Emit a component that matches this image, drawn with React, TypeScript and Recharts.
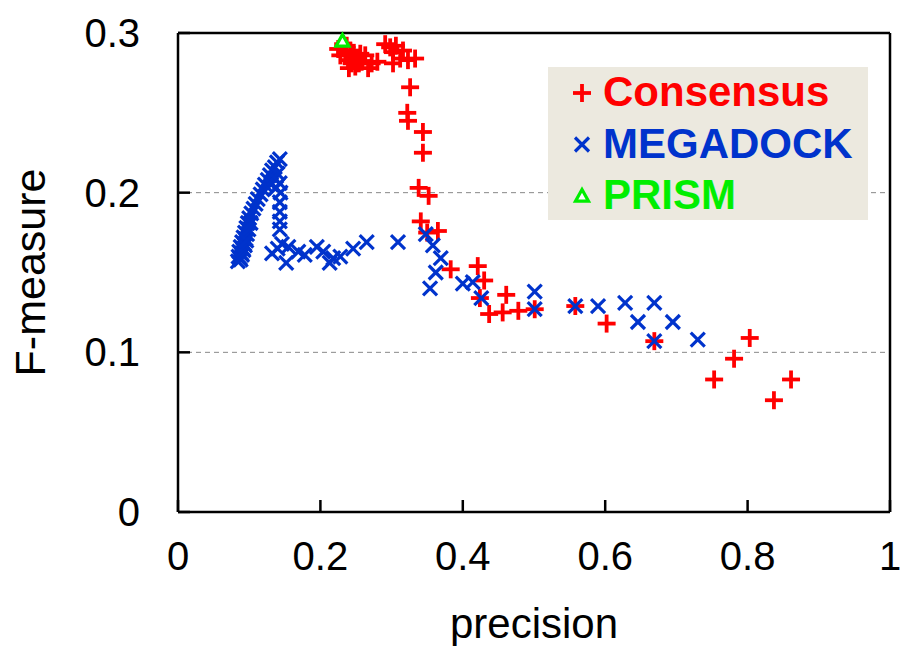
import { ScatterChart, Scatter, XAxis, YAxis, CartesianGrid, ReferenceLine, Legend } from "recharts"

const font = "'Liberation Sans', Arial, sans-serif"
const RED = "#ff0000"
const BLUE = "#0033cc"
const GREEN = "#00ee00"

const xTicks = [0, 0.2, 0.4, 0.6, 0.8, 1]
const yTicks = [0, 0.1, 0.2, 0.3]

// [precision, F-measure]
const consensusRaw = [
  [0.225, 0.29], [0.228, 0.286], [0.232, 0.293], [0.235, 0.288], [0.237, 0.292],
  [0.239, 0.283], [0.242, 0.289], [0.24, 0.278], [0.244, 0.281], [0.247, 0.286],
  [0.249, 0.279], [0.251, 0.284], [0.254, 0.281], [0.256, 0.287], [0.258, 0.282],
  [0.263, 0.286], [0.267, 0.278], [0.272, 0.281], [0.28, 0.282], [0.291, 0.293],
  [0.298, 0.291], [0.302, 0.288], [0.306, 0.292], [0.302, 0.281], [0.312, 0.284],
  [0.316, 0.289], [0.323, 0.283], [0.333, 0.284],
  [0.326, 0.266], [0.322, 0.25], [0.323, 0.245], [0.344, 0.238], [0.344, 0.225],
  [0.338, 0.203], [0.352, 0.198], [0.341, 0.182], [0.35, 0.175], [0.365, 0.176],
  [0.383, 0.152], [0.421, 0.154], [0.43, 0.145], [0.424, 0.134], [0.461, 0.136],
  [0.437, 0.124], [0.456, 0.125], [0.478, 0.126], [0.501, 0.127], [0.558, 0.129],
  [0.602, 0.118], [0.669, 0.107], [0.753, 0.083], [0.781, 0.096], [0.803, 0.109],
  [0.837, 0.07], [0.861, 0.083],
]

const megadockRaw = [
  [0.084, 0.157], [0.085, 0.16], [0.086, 0.163], [0.087, 0.159], [0.088, 0.166],
  [0.089, 0.162], [0.09, 0.169], [0.091, 0.165], [0.092, 0.172], [0.093, 0.168],
  [0.094, 0.175], [0.095, 0.171], [0.096, 0.178], [0.097, 0.174], [0.098, 0.181],
  [0.099, 0.177], [0.1, 0.184], [0.102, 0.181], [0.103, 0.187], [0.106, 0.19],
  [0.109, 0.193], [0.112, 0.196], [0.116, 0.199], [0.119, 0.202], [0.122, 0.205],
  [0.126, 0.208], [0.129, 0.211], [0.132, 0.214], [0.136, 0.216], [0.139, 0.219],
  [0.143, 0.221], [0.131, 0.205], [0.135, 0.209], [0.138, 0.203], [0.14, 0.212],
  [0.088, 0.158], [0.09, 0.161], [0.092, 0.164], [0.094, 0.167], [0.096, 0.17],
  [0.143, 0.206], [0.144, 0.2], [0.143, 0.194], [0.143, 0.188], [0.143, 0.182], [0.143, 0.177],
  [0.132, 0.162], [0.14, 0.165], [0.146, 0.168], [0.152, 0.156], [0.155, 0.166],
  [0.169, 0.163], [0.178, 0.161], [0.195, 0.166], [0.204, 0.163], [0.213, 0.156],
  [0.218, 0.159], [0.228, 0.16], [0.246, 0.165], [0.265, 0.169], [0.309, 0.169],
  [0.348, 0.174], [0.358, 0.167], [0.369, 0.159], [0.362, 0.15], [0.354, 0.14],
  [0.4, 0.143], [0.414, 0.144], [0.426, 0.134], [0.501, 0.138], [0.501, 0.127],
  [0.558, 0.129], [0.59, 0.129], [0.628, 0.131], [0.669, 0.131], [0.646, 0.119],
  [0.695, 0.119], [0.669, 0.107], [0.73, 0.108],
]

const prismRaw = [[0.231, 0.295]]

const toPoints = (rows: number[][]) => rows.map(([x, y]) => ({ x, y }))
const consensus = toPoints(consensusRaw)
const megadock = toPoints(megadockRaw)
const prism = toPoints(prismRaw)

const Plus = ({ cx, cy, s = 9, color = RED }: any) => (
  <g stroke={color} strokeWidth={3.8}>
    <line x1={cx - s} y1={cy} x2={cx + s} y2={cy} />
    <line x1={cx} y1={cy - s} x2={cx} y2={cy + s} />
  </g>
)

const Cross = ({ cx, cy, s = 7, color = BLUE }: any) => (
  <g stroke={color} strokeWidth={3.2}>
    <line x1={cx - s} y1={cy - s} x2={cx + s} y2={cy + s} />
    <line x1={cx - s} y1={cy + s} x2={cx + s} y2={cy - s} />
  </g>
)

const Triangle = ({ cx, cy, s = 6.5, color = GREEN }: any) => (
  <polygon
    points={`${cx},${cy - s} ${cx - s},${cy + s * 0.8} ${cx + s},${cy + s * 0.8}`}
    fill="#ffffff"
    stroke={color}
    strokeWidth={3.2}
  />
)

const legendItems = [
  { name: "Consensus", color: RED, Marker: Plus },
  { name: "MEGADOCK", color: BLUE, Marker: Cross },
  { name: "PRISM", color: GREEN, Marker: Triangle },
]

const LegendBox = () => (
  <svg width={320} height={153} style={{ display: "block", background: "#ece9df" }}>
    {legendItems.map((it, i) => (
      <g key={it.name}>
        <it.Marker cx={34} cy={26 + i * 51.5} color={it.color} />
        <text
          x={55}
          y={39 + i * 51.5}
          fill={it.color}
          fontSize={42}
          fontWeight="bold"
          fontFamily={font}
        >
          {it.name}
        </text>
      </g>
    ))}
  </svg>
)

const XTick = ({ x, y, payload }: any) => (
  <g>
    <line x1={x} y1={y} x2={x} y2={y - 12} stroke="#000" strokeWidth={2.5} />
    <text x={x} y={y + 58} textAnchor="middle" fontSize={40} fill="#000" fontFamily={font}>
      {String(payload.value)}
    </text>
  </g>
)

const YTick = ({ x, y, payload }: any) => (
  <g>
    <line x1={x} y1={y} x2={x + 12} y2={y} stroke="#000" strokeWidth={2.5} />
    <text x={x - 38} y={y} dy="0.35em" textAnchor="end" fontSize={40} fill="#000" fontFamily={font}>
      {String(payload.value)}
    </text>
  </g>
)

export default function App() {
  return (
    <div style={{ position: "absolute", left: 0, top: 0, background: "#fff" }}>
      <ScatterChart width={901} height={646} margin={{ top: 33, right: 11, bottom: 0, left: 0 }}>
        <CartesianGrid vertical={false} stroke="#888" strokeDasharray="5 4" strokeWidth={1} />
        <XAxis
          type="number"
          dataKey="x"
          domain={[0, 1]}
          ticks={xTicks}
          height={134}
          tickSize={0}
          tickMargin={0}
          tickLine={false}
          tick={<XTick />}
          axisLine={{ stroke: "#000", strokeWidth: 2.5 }}
          label={{ value: "precision", position: "insideBottom", offset: 8, fontSize: 42, fill: "#000", fontFamily: font }}
        />
        <YAxis
          type="number"
          dataKey="y"
          domain={[0, 0.3]}
          ticks={yTicks}
          width={178}
          tickSize={0}
          tickMargin={0}
          tickLine={false}
          tick={<YTick />}
          axisLine={{ stroke: "#000", strokeWidth: 2.5 }}
          label={{ value: "F-measure", angle: -90, position: "insideLeft", offset: 30, fontSize: 43, fill: "#000", fontFamily: font, style: { textAnchor: "middle" } }}
        />
        <ReferenceLine y={0.3} stroke="#000" strokeWidth={2.5} />
        <ReferenceLine x={1} stroke="#000" strokeWidth={2.5} />
        <Scatter name="Consensus" data={consensus} shape={<Plus />} isAnimationActive={false} />
        <Scatter name="MEGADOCK" data={megadock} shape={<Cross />} isAnimationActive={false} />
        <Scatter name="PRISM" data={prism} shape={<Triangle />} isAnimationActive={false} />
        <Legend
          layout="horizontal"
          verticalAlign="middle"
          align="center"
          wrapperStyle={{ left: 548, top: 67, width: 320, height: 153 }}
          content={() => <LegendBox />}
        />
      </ScatterChart>
    </div>
  )
}
